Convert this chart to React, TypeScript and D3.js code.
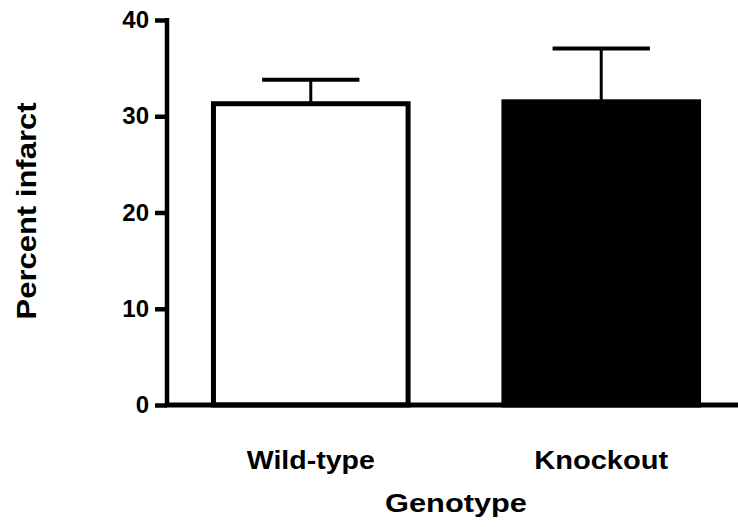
import React, { useRef, useEffect } from 'react'
import * as d3 from 'd3'

const categories = ['Wild-type', 'Knockout']
const means = [31.3, 31.5]
const errors = [2.5, 5.55]
const fills = ['white', 'black']
const yTicks = [0, 10, 20, 30, 40]

const App = () => {
    const ref = useRef<SVGSVGElement>(null)
    useEffect(() => {
        const w = 738
        const svg = d3.select(ref.current)
        svg.selectAll('*').remove()

        const font = '"Liberation Sans", Arial, sans-serif'

        // scales
        const x = d3.scaleBand<string>()
            .domain(categories)
            .range([167, 745])
            .paddingInner(0.33)
            .paddingOuter(0.16)
        const y = d3.scaleLinear()
            .domain([0, 40])
            .range([405, 20])

        const bw = x.bandwidth()

        // error bars (drawn first so bar stroke covers the stem bottom)
        const err = svg.append('g')
        categories.forEach((c, i) => {
            const cx = x(c)! + bw / 2
            err.append('line')
                .attr('x1', cx).attr('x2', cx)
                .attr('y1', y(means[i])).attr('y2', y(means[i] + errors[i]))
                .attr('stroke', 'black').attr('stroke-width', 3)
            err.append('line')
                .attr('x1', cx - bw / 4).attr('x2', cx + bw / 4)
                .attr('y1', y(means[i] + errors[i])).attr('y2', y(means[i] + errors[i]))
                .attr('stroke', 'black').attr('stroke-width', 4)
        })

        // bars
        svg.append('g')
            .selectAll('rect')
            .data(categories)
            .join('rect')
            .attr('x', d => x(d)!)
            .attr('y', (d, i) => y(means[i]))
            .attr('width', bw)
            .attr('height', (d, i) => y(0) - y(means[i]))
            .attr('fill', (d, i) => fills[i])
            .attr('stroke', 'black')
            .attr('stroke-width', 5)

        // y axis
        const yAxis = d3.axisLeft(y)
            .tickValues(yTicks)
            .tickSize(12)
            .tickPadding(6)
        const gy = svg.append('g')
            .attr('transform', 'translate(167,0)')
            .call(yAxis)
        gy.select('.domain').remove()
        gy.append('line')
            .attr('x1', 0).attr('x2', 0)
            .attr('y1', 18).attr('y2', 407)
            .attr('stroke', 'black').attr('stroke-width', 4.5)
        gy.selectAll('.tick line').attr('stroke', 'black').attr('stroke-width', 4.5)
        gy.selectAll('.tick text')
            .attr('fill', 'black')
            .style('font-family', font)
            .style('font-weight', 'bold')
            .style('font-size', '24px')

        // x axis baseline
        svg.append('line')
            .attr('x1', 165).attr('x2', w)
            .attr('y1', y(0)).attr('y2', y(0))
            .attr('stroke', 'black').attr('stroke-width', 5)

        // category labels
        const labelWidths = [128, 134]
        svg.append('g')
            .selectAll('text')
            .data(categories)
            .join('text')
            .attr('x', d => x(d)! + bw / 2)
            .attr('y', 469)
            .attr('text-anchor', 'middle')
            .attr('textLength', (d, i) => labelWidths[i])
            .attr('lengthAdjust', 'spacingAndGlyphs')
            .style('font-family', font)
            .style('font-weight', 'bold')
            .style('font-size', '26.5px')
            .text(d => d)

        // axis titles
        svg.append('text')
            .attr('x', 456)
            .attr('y', 512)
            .attr('text-anchor', 'middle')
            .attr('textLength', 142)
            .attr('lengthAdjust', 'spacingAndGlyphs')
            .style('font-family', font)
            .style('font-weight', 'bold')
            .style('font-size', '26.5px')
            .text('Genotype')

        svg.append('text')
            .attr('transform', 'translate(36,211) rotate(-90)')
            .attr('text-anchor', 'middle')
            .attr('textLength', 217)
            .attr('lengthAdjust', 'spacingAndGlyphs')
            .style('font-family', font)
            .style('font-weight', 'bold')
            .style('font-size', '28px')
            .text('Percent infarct')
    }, [])
    return (
        <svg ref={ref} width={738} height={527}
            style={{ position: 'absolute', left: 0, top: 0, background: 'white' }} />
    )
}

export default App
